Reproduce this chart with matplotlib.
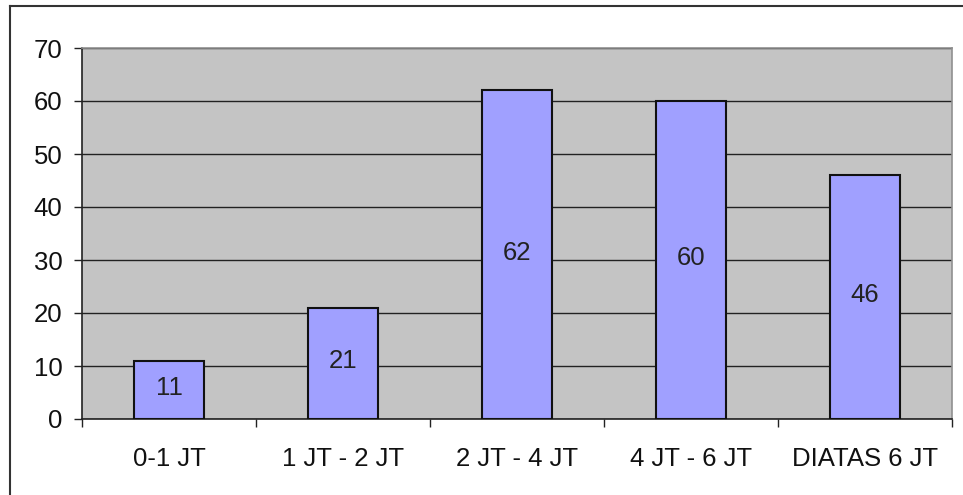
import matplotlib.pyplot as plt
from matplotlib.lines import Line2D

kategori = ['0-1 JT', '1 JT - 2 JT', '2 JT - 4 JT', '4 JT - 6 JT', 'DIATAS 6 JT']
jumlah = [11, 21, 62, 60, 46]
y_ticks = [0, 10, 20, 30, 40, 50, 60, 70]

plt.rcParams['font.family'] = ['Liberation Sans', 'DejaVu Sans']
FS = 18.5

W, H = 963, 495
fig = plt.figure(figsize=(W / 100, H / 100), dpi=100)
fig.patch.set_facecolor('white')

# posisi area plot dalam piksel
kiri, kanan, atas, bawah = 82, 952, 48, 419
ax = fig.add_axes([kiri / W, 1 - bawah / H, (kanan - kiri) / W, (bawah - atas) / H])
ax.set_facecolor('#C4C4C4')

x = list(range(len(kategori)))
bars = ax.bar(x, jumlah, width=0.4, color='#A0A0FF', edgecolor='#111111',
              linewidth=1.5, zorder=3)

for b, v in zip(bars, jumlah):
    ax.text(b.get_x() + b.get_width() / 2, v / 2 + 0.4, str(v), ha='center',
            va='center', fontsize=FS, color='#222222', zorder=4)

ax.set_xlim(-0.5, len(kategori) - 0.5)
ax.set_ylim(0, 70)
ax.set_yticks(y_ticks)
ax.set_yticklabels([str(t) for t in y_ticks], fontsize=FS, color='#111111')
ax.yaxis.grid(True, color='#222222', linewidth=1.0, zorder=1)
ax.set_axisbelow(True)

# tick kategori di batas antar kategori
ax.set_xticks([i - 0.5 for i in range(len(kategori) + 1)], minor=False)
ax.set_xticklabels([])
ax.set_xticks(x, minor=True)
ax.set_xticklabels(kategori, minor=True, fontsize=FS, color='#111111')
ax.tick_params(axis='x', which='minor', length=0, pad=20)
ax.tick_params(axis='x', which='major', length=6, width=1, color='#222222')
ax.tick_params(axis='y', length=6, width=1, color='#222222', pad=8)

ax.spines['left'].set_color('#222222')
ax.spines['bottom'].set_color('#222222')
ax.spines['top'].set_color('#909090')
ax.spines['right'].set_color('#909090')
for s in ax.spines.values():
    s.set_linewidth(1.2)

# bingkai luar (terpotong di kanan dan bawah)
fig.add_artist(Line2D([10 / W, 1.0], [1 - 6 / H, 1 - 6 / H], color='#333333',
                      linewidth=1.5, transform=fig.transFigure))
fig.add_artist(Line2D([10 / W, 10 / W], [0, 1 - 6 / H], color='#333333',
                      linewidth=1.5, transform=fig.transFigure))

fig.savefig('out.png', dpi=100)
